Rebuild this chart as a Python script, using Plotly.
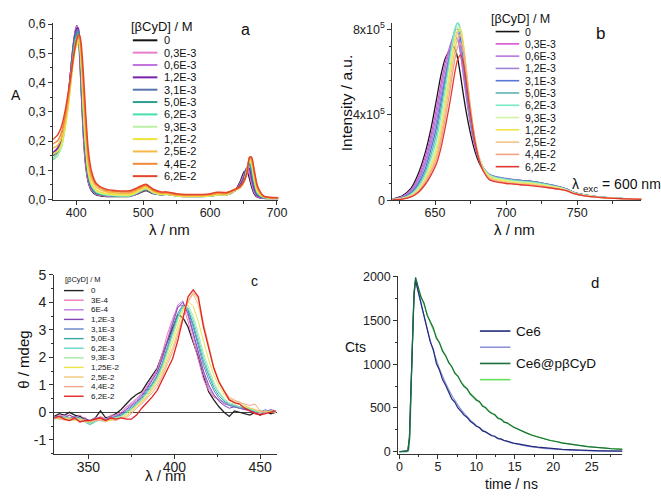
import plotly.graph_objects as go

W, H = 661, 502
FONT = "Arial, 'Liberation Sans', sans-serif"

# ---------------- legend labels / colours ----------------
conc_ab = ["0", "0,3E-3", "0,6E-3", "1,2E-3", "3,1E-3", "5,0E-3", "6,2E-3",
           "9,3E-3", "1,2E-2", "2,5E-2", "4,4E-2", "6,2E-2"]
conc_c = ["0", "3E-4", "6E-4", "1,2E-3", "3,1E-3", "5,0E-3", "6,2E-3",
          "9,3E-3", "1,25E-2", "2,5E-2", "4,4E-2", "6,2E-2"]
colors_a = ["#141414", "#e77fcf", "#c275e0", "#7a22a8", "#5874ad", "#2f9f92",
            "#45e0a6", "#bdf0a4", "#f1e43a", "#f7b848", "#f08a3a", "#e4452a"]
colors_b = ["#141414", "#d657d2", "#b977dc", "#a184d4", "#5677d2", "#5fb4b4",
            "#78eac4", "#d2f2a6", "#f2e44a", "#f2c487", "#f2a487", "#e23a32"]
colors_c = ["#222222", "#f27ab8", "#c27ae2", "#8444b4", "#6484c4", "#36a6a6",
            "#64d6c6", "#a6eaa6", "#eae446", "#f2c676", "#f2a688", "#e42424"]

# ---------------- panel a : absorption ----------------
wl_a = [365, 372, 378, 384, 389, 393, 396, 399, 401, 403, 405, 407, 409, 411, 414,
        418, 423, 430, 442, 460, 480, 493, 504, 515, 527, 535, 550, 575, 600, 610,
        625, 637, 645, 651, 655, 659, 662, 666, 671, 680, 702]
absA_0 = [.150, .165, .195, .275, .37, .47, .535, .58, .594, .575, .50, .40, .30, .21, .12, .06, .03, .016, .011, .010, .011, .020, .031, .020, .016, .018, .012, .010, .012, .015, .016, .030, .060, .095, .098, .072, .045, .020, .008, .004, .003]
absA_1 = [.155, .170, .200, .28, .372, .47, .535, .58, .592, .58, .52, .42, .32, .22, .13, .065, .032, .018, .013, .011, .012, .022, .033, .021, .017, .019, .013, .011, .013, .016, .017, .030, .055, .088, .104, .085, .055, .025, .010, .005, .004]
absA_2 = [.155, .170, .200, .28, .37, .465, .53, .575, .59, .585, .53, .44, .34, .24, .14, .07, .035, .02, .014, .012, .013, .023, .034, .022, .017, .019, .013, .011, .013, .016, .017, .030, .052, .083, .108, .095, .065, .030, .011, .005, .004]
absA_3 = [.160, .175, .205, .285, .372, .465, .528, .572, .586, .585, .54, .45, .35, .25, .15, .075, .038, .021, .015, .012, .013, .024, .035, .022, .017, .019, .013, .011, .013, .016, .017, .030, .050, .078, .110, .105, .075, .036, .013, .006, .004]
absA_4 = [.150, .165, .195, .275, .362, .455, .518, .562, .576, .58, .54, .46, .37, .27, .16, .08, .04, .022, .015, .012, .013, .024, .035, .022, .017, .019, .013, .011, .013, .016, .017, .030, .046, .072, .108, .118, .090, .045, .016, .006, .004]
absA_5 = [.140, .155, .185, .265, .352, .445, .508, .552, .566, .57, .54, .47, .38, .28, .17, .085, .043, .023, .016, .013, .013, .025, .037, .023, .017, .019, .013, .011, .013, .016, .017, .030, .044, .068, .104, .126, .105, .055, .020, .007, .005]
absA_6 = [.135, .150, .180, .258, .345, .438, .50, .545, .557, .56, .54, .48, .39, .29, .18, .09, .046, .025, .016, .013, .013, .025, .037, .023, .017, .019, .013, .011, .013, .016, .017, .030, .042, .065, .100, .132, .115, .062, .022, .007, .005]
absA_7 = [.140, .152, .180, .252, .335, .425, .487, .53, .542, .545, .535, .48, .40, .30, .19, .095, .05, .028, .018, .014, .014, .026, .038, .024, .017, .018, .012, .010, .012, .015, .016, .030, .041, .063, .098, .135, .122, .068, .025, .008, .005]
absA_8 = [.155, .165, .190, .255, .335, .42, .478, .518, .530, .535, .53, .49, .41, .31, .20, .10, .055, .032, .021, .017, .016, .028, .040, .025, .018, .019, .013, .011, .013, .016, .017, .031, .041, .062, .096, .137, .128, .074, .028, .009, .005]
absA_9 = [.175, .185, .210, .275, .35, .428, .48, .52, .538, .548, .545, .51, .44, .35, .24, .125, .07, .042, .028, .022, .021, .033, .045, .029, .021, .021, .015, .013, .015, .019, .019, .032, .041, .062, .094, .140, .135, .085, .035, .010, .006]
absA_10 = [.19, .20, .23, .29, .365, .44, .49, .528, .548, .558, .555, .52, .46, .38, .27, .145, .083, .05, .033, .027, .026, .038, .049, .032, .023, .023, .017, .015, .017, .022, .021, .033, .042, .062, .092, .143, .140, .095, .042, .011, .006]
absA_11 = [.205, .22, .25, .31, .38, .44, .49, .53, .55, .562, .562, .54, .49, .42, .30, .17, .095, .055, .037, .030, .030, .042, .052, .035, .026, .026, .020, .017, .020, .025, .024, .035, .045, .065, .090, .145, .145, .100, .045, .012, .006]

# ---------------- panel b : fluorescence (units of 1e5) ----------------
wl_b = [620, 627, 633, 638, 643, 647, 651, 654, 657, 660, 662, 664, 666, 668, 670, 672,
        675, 678, 681, 684, 688, 693, 700, 710, 720, 730, 738, 743, 748, 755, 765, 780, 796]
flB_0 = [.05, .2, .55, 1.2, 2.2, 3.3, 4.7, 5.8, 6.6, 7.0, 7.2, 7.1, 6.6, 5.8, 4.9, 4.1, 3.1, 2.3, 1.75, 1.4, 1.15, 1.05, .98, .9, .85, .72, .6, .5, .35, .25, .15, .08, .05]
flB_1 = [.04, .17, .48, 1.05, 2.0, 3.0, 4.3, 5.4, 6.4, 7.1, 7.5, 7.7, 7.5, 6.8, 5.8, 4.8, 3.5, 2.5, 1.85, 1.45, 1.18, 1.07, 1.0, .92, .86, .73, .61, .5, .35, .25, .15, .08, .05]
flB_2 = [.04, .15, .42, .95, 1.8, 2.8, 4.0, 5.1, 6.1, 7.0, 7.5, 7.85, 7.8, 7.1, 6.1, 5.0, 3.6, 2.6, 1.9, 1.48, 1.2, 1.08, 1.0, .92, .86, .73, .61, .5, .35, .25, .15, .08, .05]
flB_3 = [.035, .13, .38, .85, 1.65, 2.6, 3.7, 4.8, 5.8, 6.7, 7.2, 7.55, 7.5, 6.9, 6.0, 5.0, 3.6, 2.6, 1.9, 1.5, 1.22, 1.1, 1.02, .93, .87, .74, .62, .5, .35, .25, .15, .08, .05]
flB_4 = [.03, .11, .33, .75, 1.45, 2.35, 3.4, 4.5, 5.6, 6.7, 7.4, 7.9, 8.0, 7.5, 6.5, 5.3, 3.8, 2.7, 1.95, 1.5, 1.2, 1.08, 1.0, .92, .86, .73, .61, .5, .35, .25, .15, .08, .05]
flB_5 = [.03, .1, .29, .65, 1.3, 2.1, 3.1, 4.2, 5.4, 6.6, 7.4, 8.0, 8.3, 7.9, 6.9, 5.7, 4.0, 2.8, 2.0, 1.52, 1.2, 1.07, .98, .9, .84, .71, .6, .49, .34, .24, .15, .08, .05]
flB_6 = [.025, .09, .26, .58, 1.15, 1.9, 2.8, 3.9, 5.1, 6.4, 7.3, 8.0, 8.3, 8.0, 7.1, 5.9, 4.1, 2.85, 2.0, 1.5, 1.18, 1.05, .96, .88, .82, .7, .59, .48, .34, .24, .15, .08, .05]
flB_7 = [.02, .08, .23, .52, 1.05, 1.7, 2.5, 3.5, 4.7, 6.0, 6.9, 7.7, 8.1, 8.0, 7.2, 6.0, 4.2, 2.9, 2.0, 1.48, 1.15, 1.02, .93, .85, .79, .68, .57, .47, .33, .23, .14, .08, .05]
flB_8 = [.02, .07, .2, .46, .95, 1.55, 2.3, 3.2, 4.4, 5.7, 6.6, 7.4, 7.9, 8.0, 7.3, 6.1, 4.3, 2.95, 2.0, 1.45, 1.1, .97, .88, .8, .75, .64, .54, .45, .32, .22, .14, .07, .04]
flB_9 = [.02, .06, .18, .42, .88, 1.4, 2.1, 2.95, 4.1, 5.3, 6.2, 7.0, 7.6, 7.75, 7.2, 6.1, 4.3, 2.9, 1.95, 1.4, 1.05, .92, .83, .76, .71, .61, .52, .44, .31, .21, .13, .07, .04]
flB_10 = [.02, .055, .16, .38, .8, 1.28, 1.9, 2.7, 3.75, 4.9, 5.8, 6.6, 7.2, 7.35, 6.9, 5.9, 4.2, 2.85, 1.92, 1.38, 1.0, .88, .8, .74, .68, .59, .5, .43, .3, .2, .13, .07, .04]
flB_11 = [.02, .05, .15, .35, .72, 1.15, 1.7, 2.4, 3.35, 4.4, 5.2, 6.0, 6.6, 6.8, 6.4, 5.5, 4.0, 2.75, 1.88, 1.35, .97, .85, .78, .72, .66, .58, .5, .43, .3, .2, .13, .07, .04]

# ---------------- panel c : circular dichroism ----------------
wl_c = [330, 333, 336, 339, 342, 345, 348, 351, 354, 357, 360, 363, 366, 369, 372, 375,
        378, 381, 384, 387, 390, 393, 396, 399, 402, 405, 408, 411, 414, 417, 420, 423,
        426, 429, 432, 435, 438, 441, 444, 447, 450, 453, 456, 459]
cdC_0 = [-0.15, -0.05, -0.1, 0.0, -0.1, -0.15, -0.25, -0.3, -0.2, 0.05, -0.2, -0.15, -0.05, 0.1, 0.3, 0.5, 0.65, 0.75, 1.05, 1.35, 1.6, 2.1, 2.6, 3.1, 3.55, 3.45, 3.1, 2.55, 2.0, 1.3, 0.75, 0.45, 0.2, 0.0, -0.15, 0.05, 0.0, -0.05, -0.1, 0.0, -0.1, 0.05, -0.05, 0.0]
cdC_1 = [-0.2, -0.1, -0.15, -0.1, -0.2, -0.1, -0.25, -0.35, -0.25, -0.15, -0.25, -0.1, -0.1, 0.0, 0.2, 0.35, 0.5, 0.7, 0.95, 1.25, 1.55, 2.15, 2.85, 3.4, 3.85, 3.9, 3.3, 2.6, 1.9, 1.2, 0.8, 0.55, 0.45, 0.35, 0.3, 0.2, 0.15, 0.1, 0.05, 0.0, -0.05, 0.05, 0.0, 0.0]
cdC_2 = [-0.15, -0.2, -0.1, -0.2, -0.15, -0.2, -0.3, -0.3, -0.2, -0.2, -0.25, -0.15, -0.1, -0.05, 0.15, 0.3, 0.45, 0.65, 0.9, 1.2, 1.5, 2.0, 2.7, 3.3, 3.9, 4.05, 3.5, 2.8, 2.1, 1.4, 0.9, 0.6, 0.45, 0.3, 0.25, 0.2, 0.2, 0.1, 0.05, 0.05, 0.0, -0.05, 0.05, 0.0]
cdC_3 = [-0.2, -0.15, -0.2, -0.1, -0.2, -0.25, -0.2, -0.35, -0.25, -0.2, -0.3, -0.2, -0.15, -0.05, 0.1, 0.25, 0.4, 0.6, 0.85, 1.15, 1.45, 1.95, 2.6, 3.2, 3.8, 4.0, 3.6, 2.9, 2.2, 1.5, 1.0, 0.65, 0.4, 0.25, 0.15, 0.2, 0.15, 0.1, 0.1, 0.0, 0.05, 0.0, 0.1, 0.05]
cdC_4 = [-0.15, -0.2, -0.15, -0.25, -0.15, -0.2, -0.3, -0.4, -0.3, -0.25, -0.25, -0.2, -0.15, -0.1, 0.05, 0.2, 0.35, 0.55, 0.8, 1.05, 1.35, 1.8, 2.4, 3.0, 3.6, 3.9, 3.7, 3.1, 2.4, 1.7, 1.2, 0.8, 0.5, 0.35, 0.25, 0.2, 0.15, 0.15, 0.1, 0.05, 0.0, 0.1, 0.0, 0.05]
cdC_5 = [-0.2, -0.15, -0.25, -0.2, -0.25, -0.2, -0.35, -0.45, -0.3, -0.3, -0.3, -0.25, -0.2, -0.1, 0.0, 0.15, 0.3, 0.5, 0.75, 1.0, 1.3, 1.75, 2.3, 2.9, 3.5, 3.85, 3.75, 3.2, 2.55, 1.85, 1.35, 0.9, 0.6, 0.4, 0.3, 0.25, 0.2, 0.15, 0.1, 0.05, 0.05, 0.0, 0.05, 0.0]
cdC_6 = [-0.25, -0.2, -0.2, -0.3, -0.2, -0.25, -0.3, -0.45, -0.35, -0.25, -0.3, -0.2, -0.2, -0.15, 0.0, 0.1, 0.3, 0.45, 0.7, 0.95, 1.25, 1.7, 2.25, 2.85, 3.45, 3.85, 3.8, 3.35, 2.7, 2.0, 1.45, 1.0, 0.7, 0.45, 0.3, 0.25, 0.2, 0.2, 0.1, 0.05, 0.0, 0.05, 0.0, 0.05]
cdC_7 = [-0.2, -0.25, -0.15, -0.25, -0.3, -0.2, -0.35, -0.4, -0.3, -0.3, -0.35, -0.25, -0.2, -0.15, -0.05, 0.1, 0.25, 0.45, 0.65, 0.9, 1.2, 1.6, 2.15, 2.75, 3.35, 3.8, 3.9, 3.5, 2.85, 2.15, 1.6, 1.1, 0.75, 0.5, 0.35, 0.3, 0.2, 0.2, 0.15, 0.05, 0.0, 0.05, 0.0, 0.05]
cdC_8 = [-0.2, -0.2, -0.25, -0.2, -0.3, -0.25, -0.3, -0.35, -0.3, -0.25, -0.3, -0.3, -0.25, -0.2, -0.1, 0.05, 0.25, 0.4, 0.6, 0.85, 1.15, 1.5, 2.0, 2.55, 3.15, 3.7, 4.05, 3.85, 3.3, 2.6, 1.9, 1.35, 0.95, 0.65, 0.45, 0.35, 0.3, 0.2, 0.15, 0.1, 0.05, 0.0, 0.05, 0.0]
cdC_9 = [-0.25, -0.2, -0.3, -0.25, -0.2, -0.3, -0.3, -0.35, -0.3, -0.25, -0.35, -0.25, -0.25, -0.2, -0.15, 0.0, 0.2, 0.35, 0.55, 0.8, 1.05, 1.4, 1.85, 2.35, 2.95, 3.5, 4.0, 4.3, 3.9, 3.1, 2.3, 1.6, 1.1, 0.75, 0.5, 0.4, 0.4, 0.25, 0.15, 0.1, 0.0, 0.05, 0.0, 0.05]
cdC_10 = [-0.2, -0.25, -0.25, -0.3, -0.25, -0.3, -0.35, -0.3, -0.3, -0.3, -0.3, -0.25, -0.3, -0.2, -0.2, -0.05, 0.15, 0.3, 0.5, 0.7, 0.95, 1.3, 1.75, 2.2, 2.8, 3.4, 4.05, 4.35, 4.1, 3.25, 2.4, 1.65, 1.15, 0.8, 0.55, 0.45, 0.35, 0.3, 0.25, 0.3, 0.05, 0.0, 0.0, 0.05]
cdC_11 = [-0.2, -0.15, -0.25, -0.3, -0.2, -0.35, -0.3, -0.3, -0.25, -0.2, -0.3, -0.2, -0.25, -0.2, -0.25, -0.25, -0.1, 0.15, 0.35, 0.55, 0.8, 1.2, 1.6, 1.95, 2.6, 3.4, 4.2, 4.45, 4.2, 3.1, 2.4, 1.6, 1.1, 0.75, 0.45, 0.35, 0.3, 0.15, 0.05, -0.05, -0.1, -0.05, 0.0, 0.05]

# ---------------- panel d : fluorescence decays ----------------
t_ns = [0, 0.4, 0.8, 1.1, 1.3, 1.5, 1.7, 1.9, 2.1, 2.4, 2.8, 3.2, 3.6, 4.0, 4.4, 4.8, 5.2,
        5.6, 6.0, 6.4, 6.8, 7.2, 7.6, 8.0, 8.4, 8.8, 9.2, 9.6, 10.0, 10.4, 10.8, 11.2,
        11.6, 12.0, 12.4, 12.8, 13.2, 13.6, 14.0, 14.8, 15.6, 16.4, 17.2, 18.0, 18.8,
        19.6, 20.4, 21.2, 22.0, 22.8, 23.6, 24.4, 25.2, 26.0, 26.8, 27.6, 28.4, 29.0]
cts_ce6 = [0, 3, 2, 12, 160, 720, 1320, 1800, 1960, 1850, 1700, 1570, 1420, 1260, 1170, 1010, 935, 825, 760, 690, 605, 565, 500, 462, 418, 392, 348, 322, 290, 276, 238, 226, 208, 182, 176, 150, 146, 128, 120, 98, 86, 71, 61, 52, 44, 38, 33, 27, 23, 19, 16, 14, 12, 10, 8, 7, 6, 5]
fit_ce6 = [0, 0, 0, 5, 110, 660, 1260, 1760, 1935, 1840, 1690, 1545, 1405, 1275, 1155, 1050, 950, 865, 785, 712, 646, 587, 533, 484, 440, 400, 364, 331, 301, 273, 248, 226, 205, 187, 170, 155, 141, 128, 116, 96, 80, 66, 55, 46, 38, 32, 27, 22, 18, 15, 13, 11, 9, 8, 7, 6, 5, 4]
cts_cd = [0, 2, 4, 14, 170, 740, 1340, 1830, 1995, 1890, 1770, 1700, 1560, 1490, 1420, 1300, 1250, 1150, 1100, 1020, 975, 895, 865, 795, 745, 720, 660, 625, 590, 575, 520, 505, 462, 436, 425, 380, 372, 338, 330, 282, 246, 218, 188, 166, 148, 128, 116, 98, 90, 76, 70, 58, 54, 44, 40, 33, 30, 26]
fit_cd = [0, 0, 0, 6, 120, 680, 1280, 1790, 1970, 1880, 1780, 1680, 1580, 1480, 1395, 1315, 1240, 1165, 1095, 1030, 970, 910, 858, 806, 758, 713, 670, 635, 600, 565, 532, 500, 470, 442, 416, 391, 368, 346, 326, 285, 250, 220, 193, 170, 149, 131, 115, 101, 89, 78, 68, 60, 53, 46, 40, 35, 31, 28]
decay_labels = ["Ce6", "", "Ce6@pβCyD", ""]
decay_colors = ["#1f2b7a", "#8d93d6", "#1f6d3c", "#62e25c"]

# ---------------- tick labels ----------------
a_xticks = [400, 500, 600, 700]
a_yticks = [0, 0.1, 0.2, 0.3, 0.4, 0.5, 0.6]
a_yticktext = ["0,0", "0,1", "0,2", "0,3", "0,4", "0,5", "0,6"]
b_xticks = [650, 700, 750]
b_yticks = [0, 4, 8]
b_yticktext = ["0", "4x10<sup>5</sup>", "8x10<sup>5</sup>"]
c_xticks = [350, 400, 450]
c_yticks = [-1, 0, 1, 2, 3, 4, 5]
d_xticks = [0, 5, 10, 15, 20, 25]
d_yticks = [0, 500, 1000, 1500, 2000]

abs_series = [absA_0, absA_1, absA_2, absA_3, absA_4, absA_5, absA_6, absA_7,
              absA_8, absA_9, absA_10, absA_11]
fl_series = [flB_0, flB_1, flB_2, flB_3, flB_4, flB_5, flB_6, flB_7, flB_8,
             flB_9, flB_10, flB_11]
cd_series = [cdC_0, cdC_1, cdC_2, cdC_3, cdC_4, cdC_5, cdC_6, cdC_7, cdC_8,
             cdC_9, cdC_10, cdC_11]
decay_series = [cts_ce6, fit_ce6, cts_cd, fit_cd]


def X(px):
    return px / W


def Y(py):
    return 1 - py / H


fig = go.Figure()

for i, ys in enumerate(abs_series):
    fig.add_trace(go.Scatter(x=wl_a, y=ys, mode="lines", xaxis="x", yaxis="y",
                             line=dict(color=colors_a[i], width=1.5, shape="spline", smoothing=0.7),
                             showlegend=False, hoverinfo="skip"))
for i, ys in enumerate(fl_series):
    fig.add_trace(go.Scatter(x=wl_b, y=ys, mode="lines", xaxis="x2", yaxis="y2",
                             line=dict(color=colors_b[i], width=1.3, shape="spline", smoothing=0.7),
                             showlegend=False, hoverinfo="skip"))
for i, ys in enumerate(cd_series):
    fig.add_trace(go.Scatter(x=wl_c, y=ys, mode="lines", xaxis="x3", yaxis="y3",
                             line=dict(color=colors_c[i], width=1.3 if i in (0, 11) else 1.0),
                             showlegend=False, hoverinfo="skip"))
for i in [1, 3, 0, 2]:
    fig.add_trace(go.Scatter(x=t_ns, y=decay_series[i], mode="lines", xaxis="x4", yaxis="y4",
                             line=dict(color=decay_colors[i], width=1.2,
                                       shape="spline" if i in (1, 3) else "linear"),
                             showlegend=False, hoverinfo="skip"))


def axis(domain, rng, tickvals, ticktext, mdtick, mtick0, anchor, size, standoff=0):
    return dict(domain=domain, range=rng, tickmode="array", tickvals=tickvals,
                ticktext=ticktext, showline=True, linecolor="#333", linewidth=1,
                ticks="outside", ticklen=4, tickwidth=1, tickcolor="#333",
                ticklabelstandoff=standoff,
                showgrid=False, zeroline=False, anchor=anchor, fixedrange=True,
                tickfont=dict(family=FONT, size=size, color="#222"),
                minor=dict(ticks="outside", ticklen=2.5, tickwidth=1, tickcolor="#333",
                           tickmode="linear", dtick=mdtick, tick0=mtick0, showgrid=False))


layout = dict(
    width=W, height=H, autosize=False, margin=dict(l=0, r=0, t=0, b=0),
    paper_bgcolor="white", plot_bgcolor="white", showlegend=False,
    xaxis=axis([X(52), X(281)], [365.5, 702], a_xticks, [str(v) for v in a_xticks], 50, 350, "y", 12.5, -3),
    yaxis=axis([Y(198.3), Y(15)], [-0.003, 0.605], a_yticks, a_yticktext, 0.05, 0, "x", 12.5),
    xaxis2=axis([X(397), X(650)], [620, 795], b_xticks, [str(v) for v in b_xticks], 25, 600, "y2", 12.5, -3),
    yaxis2=axis([Y(198.4), Y(15)], [-0.015, 8.31], b_yticks, b_yticktext, 0.8, 0, "x2", 12.5),
    xaxis3=axis([X(53), X(280)], [330, 460], c_xticks, [str(v) for v in c_xticks], 25, 325, "y3", 14, -3),
    yaxis3=axis([Y(459.3), Y(275)], [-1.5, 5], c_yticks, [str(v) for v in c_yticks], 0.5, -1.5, "x3", 14),
    xaxis4=axis([X(403), X(631)], [-0.15, 29], d_xticks, [str(v) for v in d_xticks], 2.5, 0, "y4", 12.5, -3),
    yaxis4=axis([Y(459.3), Y(276)], [-22, 2014], d_yticks, [str(v) for v in d_yticks], 250, 0, "x4", 12.5),
)
layout["yaxis3"].update(zeroline=True, zerolinecolor="#444", zerolinewidth=1)
fig.update_layout(**layout)

annotations = []
shapes = []


def note(text, x, y, size, xanchor="center", angle=0, color="#111"):
    annotations.append(dict(text=text, x=X(x), y=Y(y), xref="paper", yref="paper",
                            xanchor=xanchor, yanchor="middle", showarrow=False,
                            textangle=angle, font=dict(family=FONT, size=size, color=color)))


def legend(labels, colors, x0, x1, xt, y0, dy, size, width):
    for i, (lab, col) in enumerate(zip(labels, colors)):
        yy = y0 + dy * i
        shapes.append(dict(type="line", xref="paper", yref="paper", x0=X(x0), x1=X(x1),
                           y0=Y(yy), y1=Y(yy), line=dict(color=col, width=width)))
        if lab:
            note(lab, xt, yy, size, xanchor="left")


# axis titles
note("A", 14, 90, 14)
note("λ / nm", 170, 228, 15)
note("Intensity / a.u.", 350, 98, 15.5, angle=-90)
note("λ / nm", 521, 228, 15)
note("θ / mdeg", 22, 363, 15, angle=-90)
note("λ / nm", 166, 482, 15)
note("Cts", 359, 349, 14)
note("time / ns", 518, 491, 14)

# panel labels
note("a", 248, 22, 16)
note("b", 609, 26, 17)
note("c", 257, 281, 14)
note("d", 603, 283, 15)
note("λ <sub>exc</sub> = 600 nm", 578, 182, 14, xanchor="left")

# legends
note("[βCyD] / M", 129, 19.5, 13, xanchor="left")
legend(conc_ab, colors_a, 133, 158, 163, 33.3, 12.73, 11, 2)
note("[βCyD] / M", 495, 11, 12.5, xanchor="left")
legend(conc_ab, colors_b, 502, 526, 530, 24.3, 12.66, 10.5, 1.6)
note("[βCyD] / M", 62, 280, 7.5, xanchor="left")
legend(conc_c, colors_c, 63, 83, 88, 291.3, 9.9, 8, 1.4)
legend(decay_labels, decay_colors, 486, 517, 521, 333, 16.7, 13.5, 1.6)

fig.update_layout(annotations=annotations, shapes=shapes)
fig.write_html("out.html", config={"displayModeBar": False},
               post_script="document.body.style.margin='0';document.body.style.padding='0';document.body.style.overflow='hidden';")
